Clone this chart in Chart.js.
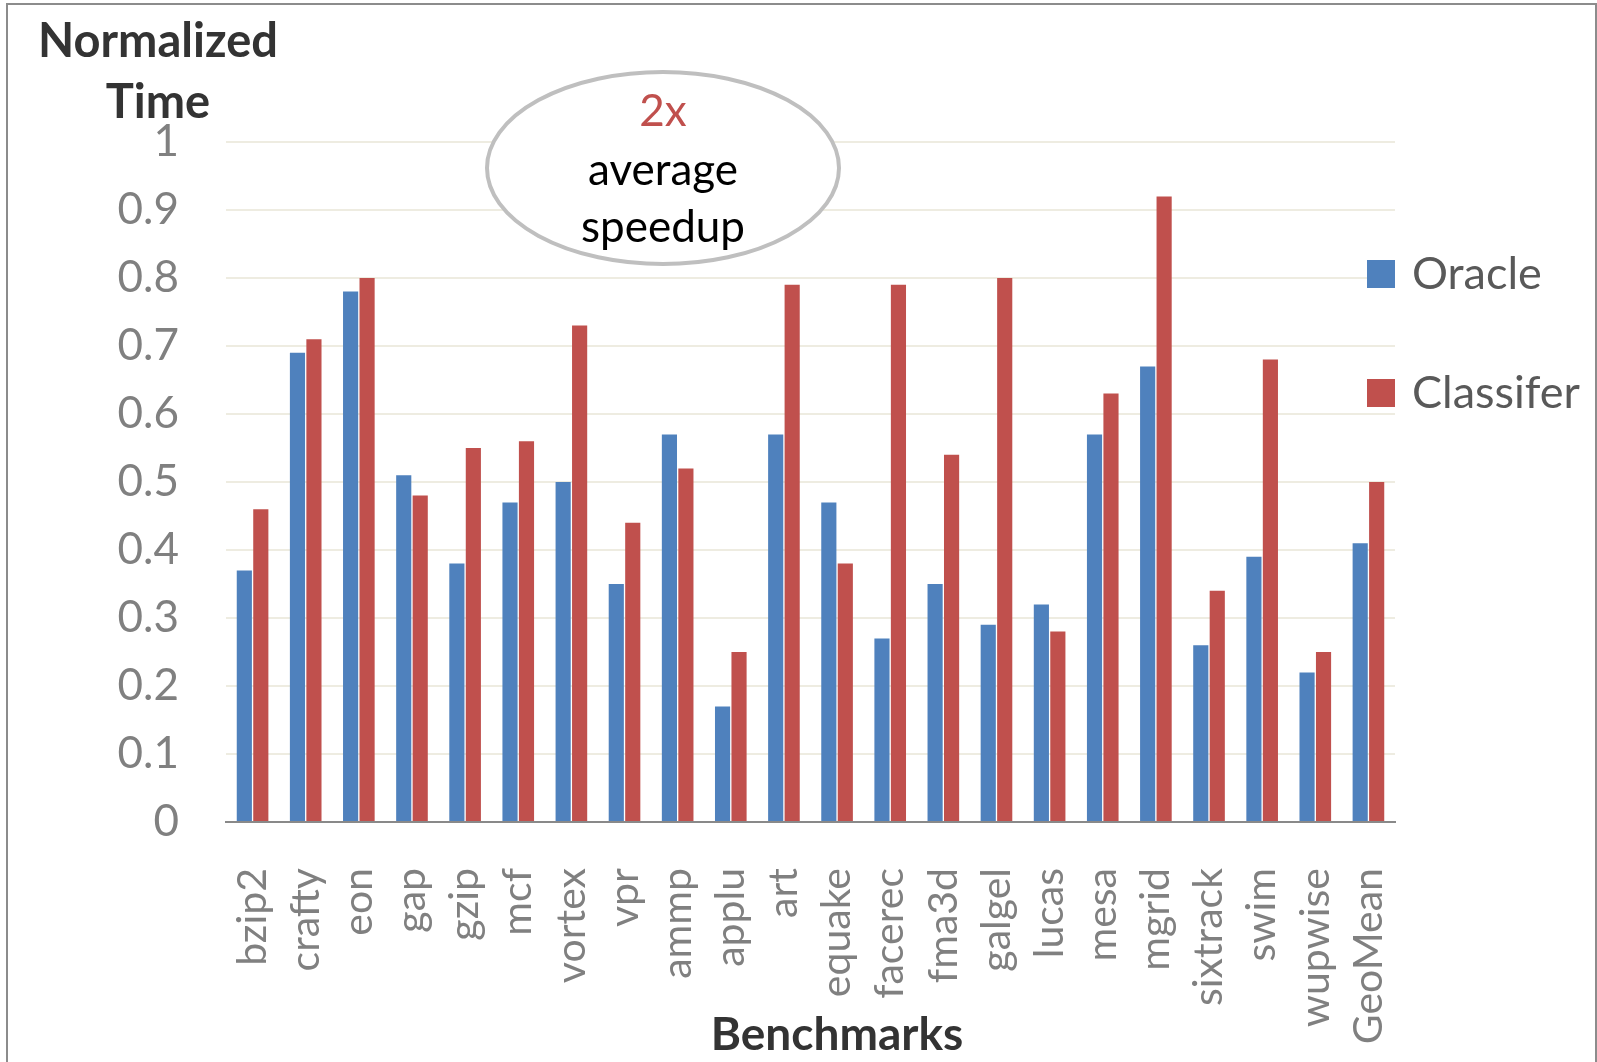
<!DOCTYPE html>
<html>
<head>
<meta charset="utf-8">
<title>Normalized Time per Benchmark</title>
<script src="https://cdn.jsdelivr.net/npm/chart.js@4.4.1/dist/chart.umd.min.js"></script>
<style>
  html, body { margin: 0; padding: 0; background: #ffffff; }
  #wrap { width: 1597px; height: 1062px; position: relative; }
</style>
</head>
<body>
<div id="wrap"><canvas id="chart" width="1597" height="1062"></canvas></div>
<script>
// Benchmarks on the x axis
const benchmarks = ['bzip2', 'crafty', 'eon', 'gap', 'gzip', 'mcf', 'vortex', 'vpr', 'ammp', 'applu', 'art',
  'equake', 'facerec', 'fma3d', 'galgel', 'lucas', 'mesa', 'mgrid', 'sixtrack', 'swim', 'wupwise', 'GeoMean'];

// Normalized execution time for each approach
const oracleTimes = [0.37, 0.69, 0.78, 0.51, 0.38, 0.47, 0.50, 0.35, 0.57, 0.17, 0.57,
  0.47, 0.27, 0.35, 0.29, 0.32, 0.57, 0.67, 0.26, 0.39, 0.22, 0.41];
const classifierTimes = [0.46, 0.71, 0.80, 0.48, 0.55, 0.56, 0.73, 0.44, 0.52, 0.25, 0.79,
  0.38, 0.79, 0.54, 0.80, 0.28, 0.63, 0.92, 0.34, 0.68, 0.25, 0.50];

const seriesNames = ['Oracle', 'Classifer'];
const yTickValues = [0, 0.1, 0.2, 0.3, 0.4, 0.5, 0.6, 0.7, 0.8, 0.9, 1];
const calloutLines = ['2x', 'average', 'speedup'];

const BLUE = '#4F81BD';
const RED = '#C0504D';
const FONT = 'Lato, "Open Sans", sans-serif';

// Frame, axis titles, legend and the speedup callout
const decorations = {
  id: 'decorations',
  afterDraw(chart) {
    const ctx = chart.ctx;
    const area = chart.chartArea;
    ctx.save();

    // outer frame (open at the bottom)
    ctx.strokeStyle = '#8C8C8C';
    ctx.lineWidth = 2;
    ctx.beginPath();
    ctx.moveTo(7, 1062);
    ctx.lineTo(7, 4);
    ctx.lineTo(1596, 4);
    ctx.lineTo(1596, 1062);
    ctx.stroke();

    // y-axis title, two lines
    ctx.fillStyle = '#333333';
    ctx.font = 'bold 47px ' + FONT;
    ctx.textAlign = 'center';
    ctx.textBaseline = 'alphabetic';
    ctx.fillText('Normalized', 158, 57);
    ctx.fillText('Time', 158, 118);

    // x-axis title
    ctx.font = 'bold 46px ' + FONT;
    ctx.fillText('Benchmarks', 837, 1050);

    // legend
    const legendRows = [274, 393];
    chart.data.datasets.forEach((ds, i) => {
      const cy = legendRows[i];
      ctx.fillStyle = ds.backgroundColor;
      ctx.fillRect(area.right - 28, cy - 14, 28, 28);
      ctx.fillStyle = '#595959';
      ctx.font = '45px ' + FONT;
      ctx.textAlign = 'left';
      ctx.textBaseline = 'middle';
      ctx.fillText(ds.label, area.right + 17, cy);
    });

    // speedup callout
    const cx = 663, cyE = 168;
    ctx.beginPath();
    ctx.ellipse(cx, cyE, 176, 96, 0, 0, Math.PI * 2);
    ctx.fillStyle = '#ffffff';
    ctx.fill();
    ctx.lineWidth = 4;
    ctx.strokeStyle = '#BFBFBF';
    ctx.stroke();

    ctx.font = '44px ' + FONT;
    ctx.textAlign = 'center';
    ctx.textBaseline = 'alphabetic';
    const baselines = [126, 185, 242];
    calloutLines.forEach((t, i) => {
      ctx.fillStyle = i === 0 ? RED : '#000000';
      ctx.fillText(t, cx, baselines[i]);
    });

    ctx.restore();
  }
};

function build() {
  new Chart(document.getElementById('chart'), {
    type: 'bar',
    data: {
      labels: benchmarks,
      datasets: [
        { label: seriesNames[0], data: oracleTimes, backgroundColor: BLUE,
          categoryPercentage: 0.62, barPercentage: 0.92 },
        { label: seriesNames[1], data: classifierTimes, backgroundColor: RED,
          categoryPercentage: 0.62, barPercentage: 0.92 }
      ]
    },
    options: {
      responsive: false,
      animation: false,
      devicePixelRatio: 1,
      layout: { padding: { left: 0, right: 202, top: 142, bottom: 0 } },
      plugins: {
        legend: { display: false },
        tooltip: { enabled: false },
        title: { display: false }
      },
      scales: {
        x: {
          grid: { display: false, drawTicks: false },
          border: { display: true, color: '#898989', width: 2 },
          ticks: {
            autoSkip: false,
            maxRotation: 90,
            minRotation: 90,
            padding: 46,
            color: '#808080',
            font: { family: FONT, size: 41 }
          },
          afterFit(scale) { scale.height = 240; }
        },
        y: {
          min: 0,
          max: 1,
          afterBuildTicks(scale) { scale.ticks = yTickValues.map(v => ({ value: v })); },
          grid: { color: '#EEECE1', lineWidth: 2, drawTicks: false },
          border: { display: false },
          ticks: {
            padding: 47,
            color: '#808080',
            font: { family: FONT, size: 44 },
            callback: v => String(Number(v.toFixed(1)))
          },
          afterFit(scale) { scale.width = 226; }
        }
      }
    },
    plugins: [decorations]
  });
}

Promise.all([
  document.fonts.load('41px Lato'),
  document.fonts.load('bold 44px Lato')
]).then(build, build);
</script>
</body>
</html>
